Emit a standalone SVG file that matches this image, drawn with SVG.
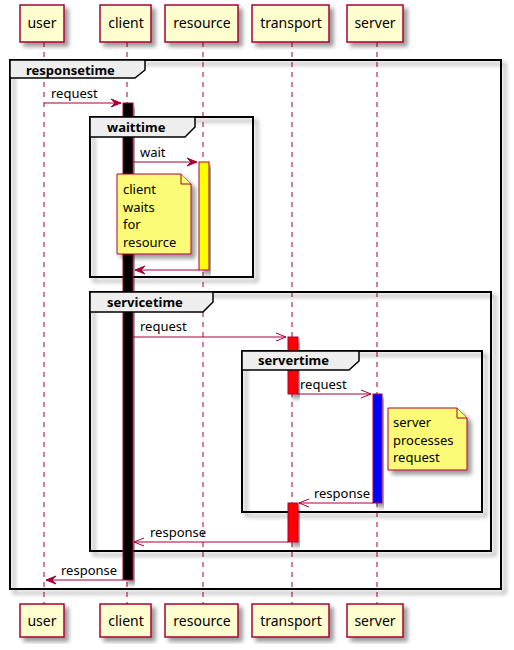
<svg xmlns="http://www.w3.org/2000/svg" width="514" height="650" viewBox="0 0 514 650">
<defs>
<filter id="sh" x="-10%" y="-10%" width="130%" height="130%">
<feGaussianBlur in="SourceAlpha" stdDeviation="2"/>
<feOffset dx="4" dy="4" result="b"/>
<feComponentTransfer><feFuncA type="linear" slope="0.4"/></feComponentTransfer>
<feMerge><feMergeNode/><feMergeNode in="SourceGraphic"/></feMerge>
</filter>
</defs>
<style>
text{font-family:"Noto Sans","DejaVu Sans",sans-serif;fill:#000}
.p rect{fill:#FEFECE;stroke:#A80036;stroke-width:1.5}
.p text{font-size:14px}
.life{stroke:#A80036;stroke-width:1;stroke-dasharray:5,5}
.grp{fill:none;stroke:#000;stroke-width:2}
.hdr{fill:#EEEEEE;stroke:#000;stroke-width:1.5}
.gt{font-size:13px;font-weight:bold}
.msg{stroke:#A80036;stroke-width:1;fill:none}
.fh{fill:#A80036;stroke:#A80036}
.oh{fill:none;stroke:#A80036;stroke-width:1}
.lbl{font-size:13px}
.act{stroke:#A80036;stroke-width:1}
.note path{fill:#FBFB77;stroke:#A80036;stroke-width:1}
.note text{font-size:13px}
</style>
<g id="lifelines">
<line class="life" x1="44" y1="42" x2="44" y2="604"/>
<line class="life" x1="127" y1="42" x2="127" y2="604"/>
<line class="life" x1="203" y1="42" x2="203" y2="604"/>
<line class="life" x1="292" y1="42" x2="292" y2="604"/>
<line class="life" x1="377" y1="42" x2="377" y2="604"/>
</g>
<g id="group-frames">
<rect class="grp" x="10" y="60" width="491" height="529" filter="url(#sh)"/>
<rect class="grp" x="90" y="117" width="163" height="160" filter="url(#sh)"/>
<rect class="grp" x="90" y="292" width="401" height="259" filter="url(#sh)"/>
<rect class="grp" x="242" y="351" width="240" height="161" filter="url(#sh)"/>
</g>
<g id="activations">
<rect class="act" x="123" y="103" width="10" height="477" fill="#000000" filter="url(#sh)"/>
<rect class="act" x="199" y="162" width="10" height="108" fill="#FFFF00" filter="url(#sh)"/>
<rect class="act" x="288" y="337" width="10" height="57" fill="#FF0000" filter="url(#sh)"/>
<rect class="act" x="373" y="394" width="9" height="109" fill="#0000FF" filter="url(#sh)"/>
<rect class="act" x="288" y="503" width="10" height="39" fill="#FF0000" filter="url(#sh)"/>
</g>
<g id="responsetime">
<path class="hdr" d="M10,60 H145 V70 L135,78 H10 Z"/>
<text class="gt" x="26" y="75">responsetime</text>
</g>
<g id="waittime">
<path class="hdr" d="M90,117 H195 V127 L185,137 H90 Z"/>
<text class="gt" x="107" y="132">waittime</text>
</g>
<g id="servicetime">
<path class="hdr" d="M90,292 H213 V302 L203,312 H90 Z"/>
<text class="gt" x="107" y="307">servicetime</text>
</g>
<g id="servertime">
<path class="hdr" d="M242,351 H359 V361 L349,370 H242 Z"/>
<text class="gt" x="258" y="365">servertime</text>
</g>
<g id="connectors">
<line class="msg" x1="44" y1="103" x2="121" y2="103"/>
<polygon class="fh" points="111,99 121,103 111,107 115,103"/>
<text class="lbl" x="51" y="98">request</text>
<line class="msg" x1="133" y1="162" x2="197" y2="162"/>
<polygon class="fh" points="187,158 197,162 187,166 191,162"/>
<text class="lbl" x="140" y="157">wait</text>
<line class="msg" x1="135" y1="270" x2="199" y2="270"/>
<polygon class="fh" points="145,266 135,270 145,274 141,270"/>
<line class="msg" x1="133" y1="337" x2="286" y2="337"/>
<polyline class="oh" points="276,333 286,337 276,341"/>
<text class="lbl" x="140" y="331">request</text>
<line class="msg" x1="298" y1="394" x2="371" y2="394"/>
<polyline class="oh" points="361,390 371,394 361,398"/>
<text class="lbl" x="300" y="389">request</text>
<line class="msg" x1="299" y1="503" x2="373" y2="503"/>
<polyline class="oh" points="309,499 299,503 309,507"/>
<text class="lbl" x="370" y="498" text-anchor="end">response</text>
<line class="msg" x1="134" y1="542" x2="288" y2="542"/>
<polyline class="oh" points="144,538 134,542 144,546"/>
<text class="lbl" x="150" y="537">response</text>
<line class="msg" x1="46" y1="580" x2="123" y2="580"/>
<polygon class="fh" points="56,576 46,580 56,584 52,580"/>
<text class="lbl" x="61" y="575">response</text>
</g>
<g id="note-client" class="note">
<path d="M117,174 H181 L191,184 V254 H117 Z" filter="url(#sh)"/>
<path d="M181,174 V184 H191"/>
<text x="123" y="194">client</text>
<text x="123" y="212">waits</text>
<text x="123" y="229">for</text>
<text x="123" y="247">resource</text>
</g>
<g id="note-server" class="note">
<path d="M388,408 H457 L467,418 V470 H388 Z" filter="url(#sh)"/>
<path d="M457,408 V418 H467"/>
<text x="393" y="427">server</text>
<text x="393" y="445">processes</text>
<text x="393" y="462">request</text>
</g>
<g id="user" class="p">
<rect x="20" y="5" width="44" height="37" filter="url(#sh)"/>
<text x="42" y="28" text-anchor="middle">user</text>
<rect x="20" y="604" width="44" height="33" filter="url(#sh)"/>
<text x="42" y="626" text-anchor="middle">user</text>
</g>
<g id="client" class="p">
<rect x="100" y="5" width="51" height="37" filter="url(#sh)"/>
<text x="126" y="28" text-anchor="middle">client</text>
<rect x="100" y="604" width="51" height="33" filter="url(#sh)"/>
<text x="126" y="626" text-anchor="middle">client</text>
</g>
<g id="resource" class="p">
<rect x="165" y="5" width="73" height="37" filter="url(#sh)"/>
<text x="202" y="28" text-anchor="middle">resource</text>
<rect x="165" y="604" width="73" height="33" filter="url(#sh)"/>
<text x="202" y="626" text-anchor="middle">resource</text>
</g>
<g id="transport" class="p">
<rect x="252" y="5" width="77" height="37" filter="url(#sh)"/>
<text x="291" y="28" text-anchor="middle">transport</text>
<rect x="252" y="604" width="77" height="33" filter="url(#sh)"/>
<text x="291" y="626" text-anchor="middle">transport</text>
</g>
<g id="server" class="p">
<rect x="347" y="5" width="56" height="37" filter="url(#sh)"/>
<text x="375" y="28" text-anchor="middle">server</text>
<rect x="347" y="604" width="56" height="33" filter="url(#sh)"/>
<text x="375" y="626" text-anchor="middle">server</text>
</g>
</svg>
